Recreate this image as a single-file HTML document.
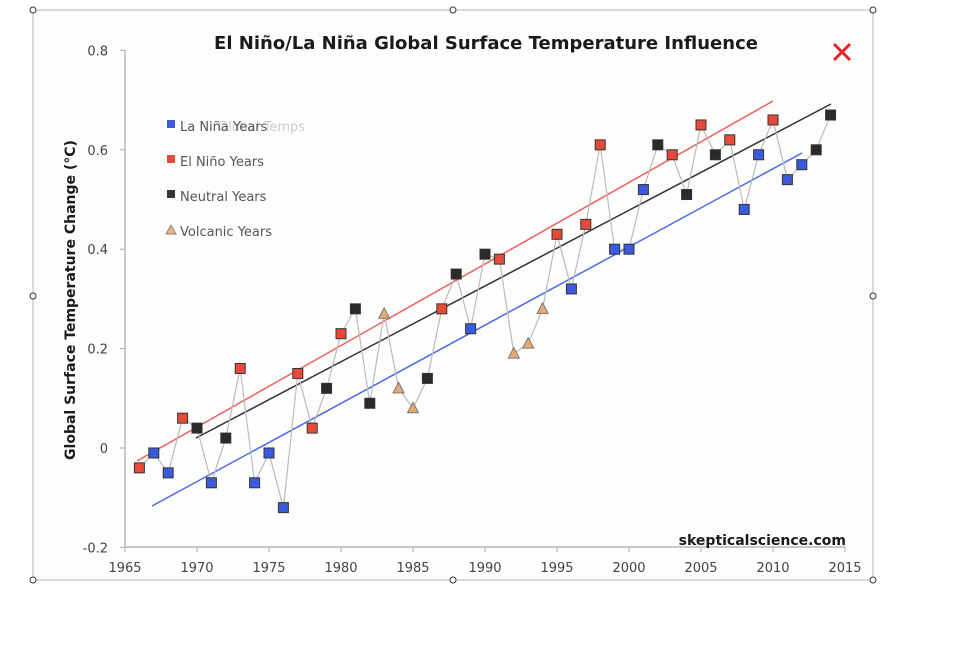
<!DOCTYPE html>
<html><head><meta charset="utf-8"><style>
html,body{margin:0;padding:0;background:#fff;width:978px;height:664px;overflow:hidden}
svg{display:block}
text{font-family:"DejaVu Sans","Liberation Sans",sans-serif}
</style></head><body>
<svg id="s" width="978" height="664" xmlns="http://www.w3.org/2000/svg">
<rect x="33" y="10" width="840" height="570" fill="#fdfdfc" stroke="#cfcfcf" stroke-width="1.5"/>
<text x="486" y="49" text-anchor="middle" font-size="18" font-weight="bold" fill="#1a1a1a">El Niño/La Niña Global Surface Temperature Influence</text>
<g stroke="#e8212a" stroke-width="3"><line x1="834" y1="44" x2="850" y2="60"/><line x1="850" y1="44" x2="834" y2="60"/></g>
<g stroke="#aaa" stroke-width="1.2" fill="none">
<line x1="125" y1="50" x2="125" y2="547"/>
<line x1="125" y1="547" x2="845" y2="547"/>
</g>
<g id="ticks"></g>
<text transform="translate(75,300) rotate(-90)" text-anchor="middle" font-size="14" font-weight="bold" fill="#1a1a1a">Global Surface Temperature Change (°C)</text>
<text x="846" y="545" text-anchor="end" font-size="14" font-weight="bold" fill="#1a1a1a">skepticalscience.com</text>
<line x1="137" y1="461" x2="773" y2="101" stroke="#f06060" stroke-width="1.5"/>
<line x1="196" y1="438" x2="831" y2="104" stroke="#333" stroke-width="1.5"/>
<line x1="152" y1="506" x2="802" y2="153" stroke="#4a6ae8" stroke-width="1.5"/>
<polyline id="pl" fill="none" stroke="#bbb" stroke-width="1.2"/>
<g id="mk"></g>
<g font-size="13" fill="#555">
<text x="218" y="131" fill="#ccc">Global Temps</text>
<rect x="167" y="120" width="8" height="8" fill="#3a5ae0"/><text x="180" y="131">La Niña Years</text>
<rect x="167" y="155" width="8" height="8" fill="#e84a3a"/><text x="180" y="166">El Niño Years</text>
<rect x="167" y="190" width="8" height="8" fill="#333"/><text x="180" y="201">Neutral Years</text>
<polygon points="171,225 176,234 166,234" fill="#f0b080" stroke="#888"/><text x="180" y="236">Volcanic Years</text>
</g>
<g fill="#fff" stroke="#333" stroke-width="1">
<circle cx="33" cy="10" r="3"/><circle cx="453" cy="10" r="3"/><circle cx="873" cy="10" r="3"/>
<circle cx="33" cy="296" r="3"/><circle cx="873" cy="296" r="3"/>
<circle cx="33" cy="580" r="3"/><circle cx="453" cy="580" r="3"/><circle cx="873" cy="580" r="3"/>
</g>
</svg>
<script>
var NS="http://www.w3.org/2000/svg";
function X(y){return 125+(y-1965)*14.4}
function Y(v){return 448-v*497}
function el(t,a,p,txt){var e=document.createElementNS(NS,t);for(var k in a)e.setAttribute(k,a[k]);if(txt!==undefined)e.textContent=txt;p.appendChild(e);return e}
var tk=document.getElementById("ticks");
for(var v=-0.2;v<=0.81;v+=0.2){var vv=Math.round(v*10)/10,y=Y(vv);
el("line",{x1:120,y1:y,x2:125,y2:y,stroke:"#aaa"},tk);
el("text",{x:108,y:y+5,"text-anchor":"end","font-size":13,fill:"#444"},tk,vv==0?"0":vv.toFixed(1));}
for(var yr=1965;yr<=2015;yr+=5){var x=X(yr);
el("line",{x1:x,y1:547,x2:x,y2:552,stroke:"#aaa"},tk);
el("text",{x:x,y:572,"text-anchor":"middle","font-size":13,fill:"#444"},tk,yr);}
var d="E-.04 L-.01 L-.05 E.06 N.04 L-.07 N.02 E.16 L-.07 L-.01 L-.12 E.15 E.04 N.12 E.23 N.28 N.09 V.27 V.12 V.08 N.14 E.28 N.35 L.24 N.39 E.38 V.19 V.21 V.28 E.43 L.32 E.45 E.61 L.40 L.40 L.52 N.61 E.59 N.51 E.65 N.59 E.62 L.48 L.59 E.66 L.54 L.57 N.60 N.67".split(" ");
var pts=[],mk=document.getElementById("mk"),col={E:"#e84a3a",L:"#3a5ae0",N:"#2a2a2a"};
d.forEach(function(s,i){var t=s[0],v=parseFloat(s.slice(1)),x=X(1966+i),y=Y(v);pts.push(x+","+y);
if(t=="V")el("polygon",{points:(x)+","+(y-6)+" "+(x+5.5)+","+(y+4.5)+" "+(x-5.5)+","+(y+4.5),fill:"#e8a870",stroke:"#777"},mk);
else el("rect",{x:x-5,y:y-5,width:10,height:10,fill:col[t],stroke:"#333","stroke-width":1},mk);});
document.getElementById("pl").setAttribute("points",pts.join(" "));
</script>
</body></html>
